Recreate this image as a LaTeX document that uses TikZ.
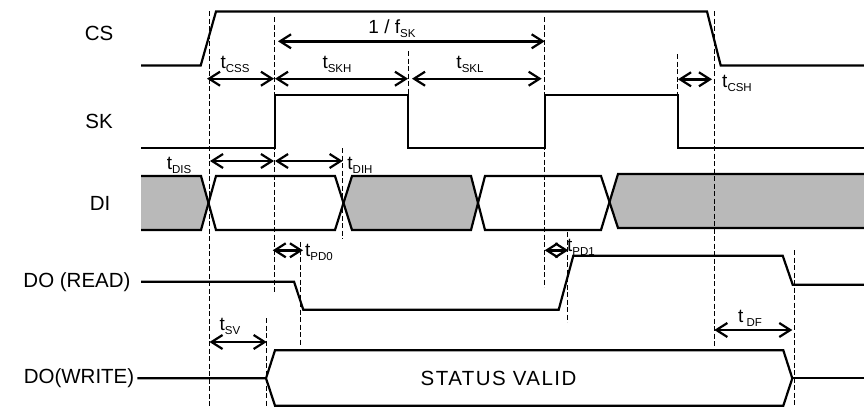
\documentclass[tikz,border=0pt]{standalone}
\usepackage{fontspec}
\setmainfont{Liberation Sans}
\usetikzlibrary{arrows.meta,positioning}
\newcommand{\subtext}[1]{\raisebox{-.4ex}{\fontsize{11.5}{12}\selectfont #1}}
\newcommand{\tsub}[1]{t\subtext{#1}}
\tikzset{
	signal/.style={line width=2.2pt,line join=miter},
	guide/.style={dash pattern=on 5pt off 2.5pt,line width=0.8pt},
	timearrow/.style={line width=2.4pt,{Straight Barb[length=11pt,width=14pt,line width=2.2pt]}-{Straight Barb[length=11pt,width=14pt,line width=2.2pt]}},
	sigvalue/.style={font=\fontsize{20.5}{22}\selectfont,inner sep=0pt},
	timelabel/.style={font=\fontsize{19}{20}\selectfont,inner sep=0pt},
	dontcare/.style={fill=gray!55!white,draw=none},
}
\begin{document}
\begin{tikzpicture}[x=1pt,y=-1pt]
	\useasboundingbox (0,0) rectangle (864,407);
	% grey parts of DI
	\fill[dontcare] (141,177) -- (201,177) -- (208,203) -- (201,230) -- (141,230) -- cycle;
	\fill[dontcare] (351,177) -- (471,177) -- (477,203) -- (471,230) -- (351,230) -- (343,203) -- cycle;
	\fill[dontcare] (618,174) -- (864,174) -- (864,228) -- (618,228) -- (610,203) -- cycle;
	% guide lines
	\draw[guide] (209.3,11) -- (209.3,407);
	\draw[guide] (274.7,17) -- (274.7,293);
	\draw[guide] (408,51) -- (408,94);
	\draw[guide] (342.7,148) -- (342.7,239);
	\draw[guide] (544.7,17) -- (544.7,287);
	\draw[guide] (677.7,54) -- (677.7,94);
	\draw[guide] (714.7,11) -- (714.7,348);
	\draw[guide] (567.3,232) -- (567.3,322);
	\draw[guide] (300.3,242) -- (300.3,345);
	\draw[guide] (266,318) -- (266,407);
	\draw[guide] (794.3,250) -- (794.3,407);
	% signals
	\draw[signal] (141,65.5) -- (200.7,65.5) -- (216,11.5) -- (707,11.5) -- (720.7,65.5) -- (864,65.5);
	\draw[signal] (141,148) -- (274.7,148) -- (274.7,94.7) -- (408,94.7) -- (408,148) -- (544.7,148) -- (544.7,94.7) -- (677.7,94.7) -- (677.7,148) -- (864,148);
	\draw[signal] (141,176) -- (201,176) -- (216,230) -- (335,230) -- (352,176) -- (471,176) -- (485,230) -- (601,230) -- (618,174) -- (864,174);
	\draw[signal] (141,230) -- (201,230) -- (216,176) -- (335,176) -- (352,230) -- (471,230) -- (485,176) -- (601,176) -- (618,228) -- (864,228);
	\draw[signal] (141,281.7) -- (294,281.7) -- (303.3,309.7) -- (558.7,309.7) -- (573.3,255.7) -- (782.7,255.7) -- (792.7,284.7) -- (864,284.7);
	\draw[signal] (137.3,378.3) -- (266,378.3) -- (275,350.3) -- (783.3,350.3) -- (792.3,378.3) -- (783.3,405.7) -- (275,405.7) -- (266,378.3);
	\draw[signal] (792.3,378.3) -- (864,378.3);
	% timing arrows
	\coordinate (fska) at (278,41.3);
	\coordinate (fskb) at (544.7,41.3);
	\coordinate (cssa) at (207,78.7);
	\coordinate (cssb) at (274,78.7);
	\coordinate (skha) at (275,78.7);
	\coordinate (skhb) at (408,78.7);
	\coordinate (skla) at (412,78.7);
	\coordinate (sklb) at (541.7,78.7);
	\coordinate (csha) at (678,79.3);
	\coordinate (cshb) at (712,79.3);
	\coordinate (disa) at (210,161);
	\coordinate (disb) at (274,161);
	\coordinate (diha) at (275,161);
	\coordinate (dihb) at (342.7,161);
	\coordinate (pd0a) at (272.7,250.3);
	\coordinate (pd0b) at (303,250.3);
	\coordinate (pd1a) at (544.7,250.3);
	\coordinate (pd1b) at (568.3,250.3);
	\coordinate (sva) at (209.5,342);
	\coordinate (svb) at (266.7,342);
	\coordinate (dfa) at (714.3,330);
	\coordinate (dfb) at (792.3,330);
	\draw[timearrow] (fska) -- (fskb);
	\draw[timearrow] (cssa) -- (cssb);
	\draw[timearrow] (skha) -- (skhb);
	\draw[timearrow] (skla) -- (sklb);
	\draw[timearrow] (csha) -- (cshb);
	\draw[timearrow] (disa) -- (disb);
	\draw[timearrow] (diha) -- (dihb);
	\draw[timearrow] (pd0a) -- (pd0b);
	\draw[timearrow] (pd1a) -- (pd1b);
	\draw[timearrow] (sva) -- (svb);
	\draw[timearrow] (dfa) -- (dfb);
	% signal names
	\node[sigvalue] (cs) at (99,33) {CS};
	\node[sigvalue] (sk) at (99,121) {SK};
	\node[sigvalue] (di) at (100,203) {DI};
	\node[sigvalue] (doread) at (77,282) {DO (READ)};
	\node[sigvalue] (dowrite) at (79,378) {DO(WRITE)};
	\node[sigvalue] (status) at (498.5,378) {\addfontfeature{LetterSpace=7}STATUS VALID};
	% timing labels
	\node[timelabel] (lfsk) at (392,29) {1 / f\subtext{SK}};
	\node[timelabel] (lcss) at (235,64) {\tsub{CSS}};
	\node[timelabel] (lskh) at (337,64) {\tsub{SKH}};
	\node[timelabel] (lskl) at (470,64) {\tsub{SKL}};
	\node[timelabel] (lcsh) at (737,83) {\tsub{CSH}};
	\node[timelabel] (ldis) at (179,165) {\tsub{DIS}};
	\node[timelabel] (ldih) at (360,165) {\tsub{DIH}};
	\node[timelabel] (lpd0) at (319,252) {\tsub{PD0}};
	\node[timelabel] (lpd1) at (581,247) {\tsub{PD1}};
	\node[timelabel] (lsv) at (230,326) {\tsub{SV}};
	\node[timelabel] (ldf) at (750,318) {\tsub{ DF}};
\end{tikzpicture}
\end{document}
